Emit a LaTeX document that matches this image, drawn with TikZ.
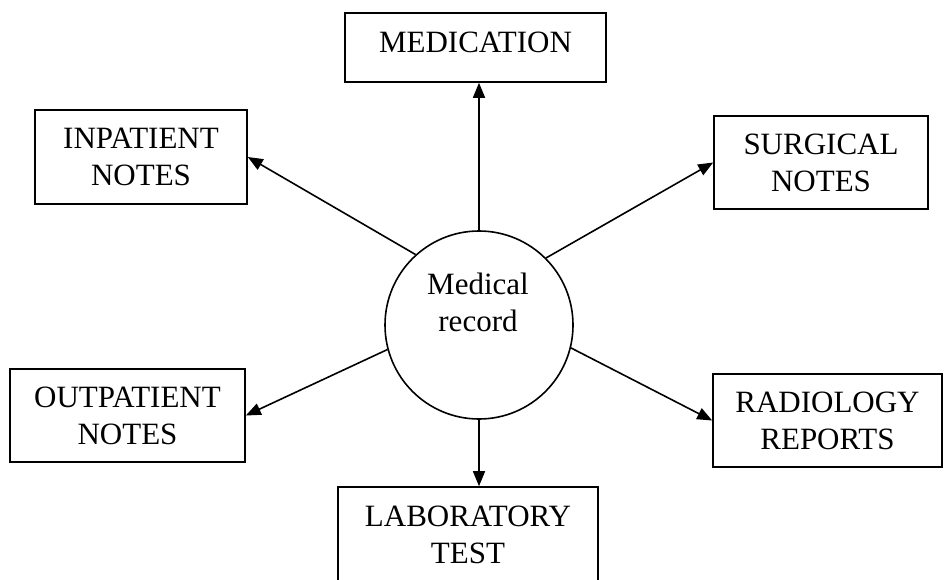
\documentclass[tikz,border=0pt]{standalone}
\usepackage{fontspec}
\setmainfont{Liberation Serif}
\usetikzlibrary{arrows.meta,calc}
\begin{document}
\begin{tikzpicture}[x=1pt,y=-1pt,
  box/.style={draw, line width=1.6pt, inner sep=0pt, align=center,
    font=\fontsize{31}{37}\selectfont},
  hub/.style={draw, circle, line width=1.6pt, minimum size=188pt, inner sep=0pt},
  link/.style={line width=1.6pt, -{Triangle[length=15pt,width=12pt]}}]
\clip (0,0) rectangle (944,580);
\fill[white] (0,0) rectangle (944,580);
\node[hub] (c) at (479,325) {};
\node[align=center, inner sep=0pt, font=\fontsize{31}{37}\selectfont] (ct) at (478,302) {Medical\\record};
\node[box, minimum width=261pt, minimum height=69pt, text depth=10pt] (med) at (475.5,47.5) {MEDICATION};
\node[box, minimum width=212pt, minimum height=94pt] (inp) at (141,157) {INPATIENT\\NOTES};
\node[box, minimum width=214pt, minimum height=93pt] (sur) at (821,162.5) {SURGICAL\\NOTES};
\node[box, minimum width=235pt, minimum height=93pt] (out) at (127.5,415.5) {OUTPATIENT\\NOTES};
\node[box, minimum width=229pt, minimum height=93pt] (rad) at (827.5,420.5) {RADIOLOGY\\REPORTS};
\node[box, minimum width=260pt, minimum height=95pt] (lab) at (468,534.5) {LABORATORY\\TEST};
\draw[link] (c.north) -- (c.north |- med.south);
\draw[link] (c.132) -- (inp.east);
\draw[link] (c.45) -- (sur.west);
\draw[link] (c.195) -- (out.east);
\draw[link] (c.346) -- (rad.west);
\draw[link] (c.south) -- (c.south |- lab.north);
\end{tikzpicture}
\end{document}
